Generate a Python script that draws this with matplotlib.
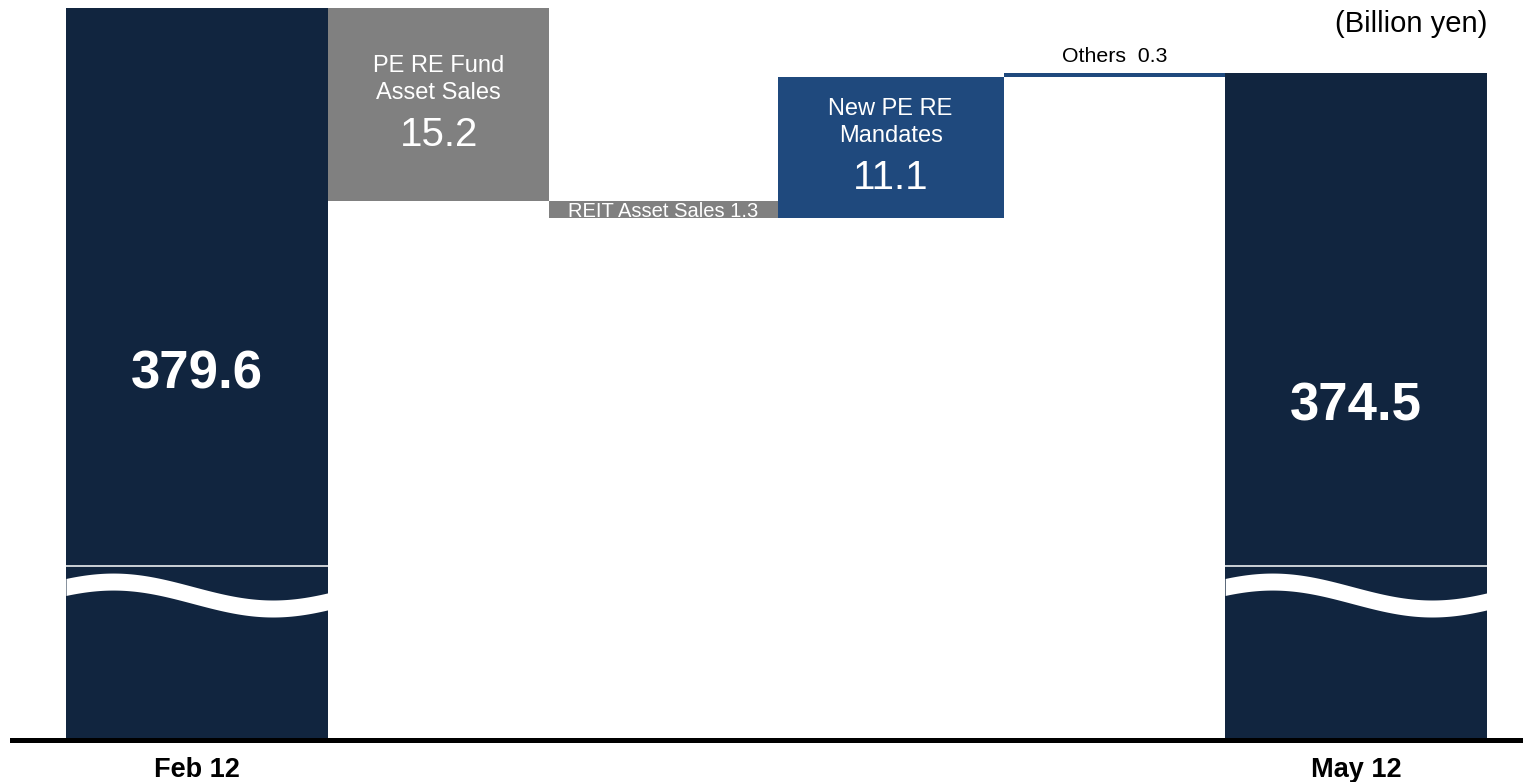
import numpy as np
import matplotlib.pyplot as plt
from matplotlib.transforms import blended_transform_factory

plt.rcParams['font.family'] = ['Liberation Sans', 'DejaVu Sans']

# data (billion yen)
categories = ["Feb 12", "PE RE Fund\nAsset Sales", "REIT Asset Sales",
              "New PE RE\nMandates", "Others", "May 12"]
start_value = 379.6
changes = [-15.2, -1.3, 11.1, 0.3]
end_value = 374.5
unit_label = "(Billion yen)"

# look
NAVY = '#11253F'
GREY = '#808080'
BLUE = '#1F497D'
bar_widths = [1.17, 0.99, 1.02, 1.01, 0.99, 1.17]
y_top = 380.23
y_floor = 321.96
break_y = 0.2074      # axes fraction, top edge of the wave
break_amp = 0.0182
break_thick = 0.023

# waterfall geometry
levels = [start_value]
for c in changes:
    levels.append(levels[-1] + c)

bottoms = [y_floor]
heights = [start_value - y_floor]
colors = [NAVY]
for i, c in enumerate(changes):
    bottoms.append(min(levels[i], levels[i + 1]))
    heights.append(abs(c))
    colors.append(GREY if c < 0 else BLUE)
bottoms.append(y_floor)
heights.append(end_value - y_floor)
colors.append(NAVY)

lefts = np.concatenate([[0], np.cumsum(bar_widths)[:-1]])
centers = lefts + np.array(bar_widths) / 2

fig = plt.figure(figsize=(15.23, 7.82), dpi=100)
ax = fig.add_axes([12 / 1523, 42 / 782, 1511 / 1523, 740 / 782])

ax.bar(lefts, heights, width=bar_widths, bottom=bottoms, align='edge',
       color=colors, linewidth=0)

# axis break on the two totals
trans = blended_transform_factory(ax.transData, ax.transAxes)
t = np.linspace(0, 1, 200)
for i in (0, len(categories) - 1):
    x = lefts[i] + t * bar_widths[i]
    wave = break_y + break_amp * np.cos(2 * np.pi * (t - 0.18) / 1.22)
    ax.fill_between(x, wave - break_thick, wave, color='white', lw=0,
                    transform=trans)
    ax.plot([lefts[i], lefts[i] + bar_widths[i]], [0.235, 0.235],
            color='white', lw=1.1, transform=trans)

# total labels
for i, val in ((0, start_value), (5, end_value)):
    mid = (bottoms[i] + bottoms[i] + heights[i]) / 2
    ax.text(centers[i], mid, f"{val:.1f}", ha='center', va='center',
            color='white', fontsize=38, fontweight='bold')

# change labels
for k, c in enumerate(changes):
    i = k + 1
    mid = bottoms[i] + heights[i] / 2
    name = categories[i]
    if abs(c) >= 5:
        ax.annotate(name, (centers[i], mid), xytext=(0, 18),
                    textcoords='offset points', ha='center', va='center',
                    color='white', fontsize=17, linespacing=1.3)
        ax.annotate(f"{abs(c):.1f}", (centers[i], mid), xytext=(0, -22),
                    textcoords='offset points', ha='center', va='center',
                    color='white', fontsize=29)
    elif c < 0:
        ax.annotate(f"{name} {abs(c):.1f}", (centers[i], mid), xytext=(0, -5.2),
                    textcoords='offset points', ha='center', va='baseline',
                    color='white', fontsize=14.5)
    else:
        ax.annotate(f"{name}  {abs(c):.1f}", (centers[i], bottoms[i] + heights[i]),
                    xytext=(0, 5), textcoords='offset points', ha='center',
                    va='bottom', color='black', fontsize=15.3)

fig.text(1487 / 1523, 1 - 24 / 782, unit_label, ha='right', va='center',
         fontsize=21, color='black')

ax.set_xlim(-54 / 223.8, sum(bar_widths) + 36 / 223.8)
ax.set_ylim(y_floor, y_top)
ax.set_xticks([centers[0], centers[-1]])
ax.set_xticklabels([categories[0], categories[-1]], fontsize=19.5,
                   fontweight='bold')
ax.tick_params(axis='x', length=0, pad=12)
ax.set_yticks([])
for side in ('top', 'left', 'right'):
    ax.spines[side].set_visible(False)
ax.spines['bottom'].set_linewidth(3.6)
ax.spines['bottom'].set_color('black')

fig.savefig('out.png', dpi=100)
